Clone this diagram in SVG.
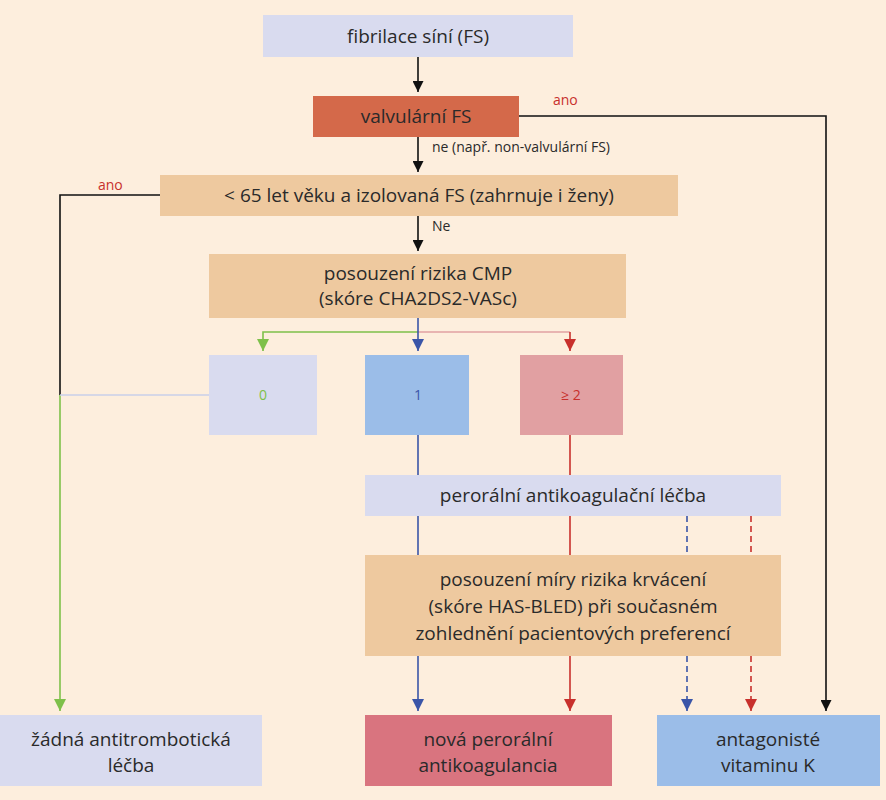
<svg xmlns="http://www.w3.org/2000/svg" width="886" height="800" viewBox="0 0 886 800">
<style>
text{font-family:"Open Sans","Liberation Sans",sans-serif;fill:#2a2a2a;text-anchor:middle}
.t{font-size:19px}
.s{font-size:14px;text-anchor:start}
.r{fill:#c8302c}
.ln{fill:none;stroke-width:1.6}
</style>
<defs>
<marker id="ak" viewBox="0 0 10 10" refX="5" refY="10" markerWidth="11" markerHeight="11" markerUnits="userSpaceOnUse"><path d="M0,0L10,0L5,10z" fill="#111"/></marker>
<marker id="ab" viewBox="0 0 10 10" refX="5" refY="10" markerWidth="12" markerHeight="12" markerUnits="userSpaceOnUse"><path d="M0,0L10,0L5,10z" fill="#3a55a8"/></marker>
<marker id="ar" viewBox="0 0 10 10" refX="5" refY="10" markerWidth="12" markerHeight="12" markerUnits="userSpaceOnUse"><path d="M0,0L10,0L5,10z" fill="#c8302c"/></marker>
<marker id="ag" viewBox="0 0 10 10" refX="5" refY="10" markerWidth="12" markerHeight="12" markerUnits="userSpaceOnUse"><path d="M0,0L10,0L5,10z" fill="#7ec04a"/></marker>
</defs>
<rect width="886" height="800" fill="#fdeedd"/>
<g id="connectors">
<path class="ln" stroke="#111" d="M418,57V92" marker-end="url(#ak)"/>
<path class="ln" stroke="#111" d="M418,137V172" marker-end="url(#ak)"/>
<path class="ln" stroke="#111" d="M418,216V251" marker-end="url(#ak)"/>
<path class="ln" stroke="#111" d="M519,116H826V711" marker-end="url(#ak)"/>
<path class="ln" stroke="#111" d="M160,195H60V395"/>
<path class="ln" stroke="#7ec04a" d="M60,395V711" marker-end="url(#ag)"/>
<path class="ln" stroke="#c8cfe8" d="M209,395H60"/>
<path class="ln" stroke="#e1a0a2" stroke-width="2.5" fill="none" d="M418,332H570"/>
<path class="ln" stroke="#c8302c" d="M570,332V351" marker-end="url(#ar)"/>
<path class="ln" stroke="#7ec04a" d="M418,332H263V351" marker-end="url(#ag)"/>
<path class="ln" stroke="#3a55a8" d="M418,318V351" marker-end="url(#ab)"/>
<path class="ln" stroke="#3a55a8" d="M418,435V711" marker-end="url(#ab)"/>
<path class="ln" stroke="#c8302c" d="M570,435V711" marker-end="url(#ar)"/>
<path class="ln" stroke="#3a55a8" stroke-dasharray="6,4" d="M687,516V711" marker-end="url(#ab)"/>
<path class="ln" stroke="#c8302c" stroke-dasharray="6,4" d="M751,516V711" marker-end="url(#ar)"/>
</g>
<g id="n1"><rect x="263" y="15" width="310" height="42" fill="#d9dbef"/><text class="t" x="418" y="43">fibrilace síní (FS)</text></g>
<g id="n2"><rect x="313" y="96" width="206" height="41" fill="#d4694a"/><text class="t" x="416" y="123">valvulární FS</text></g>
<text class="s r" x="553" y="105">ano</text>
<text class="s" x="432" y="152">ne (např. non-valvulární FS)</text>
<g id="n3"><rect x="160" y="175" width="518" height="41" fill="#eec99f"/><text class="t" x="419" y="202">&lt; 65 let věku a izolovaná FS (zahrnuje i ženy)</text></g>
<text class="s r" x="98" y="190">ano</text>
<text class="s" x="432" y="231">Ne</text>
<g id="n4"><rect x="209" y="254" width="417" height="64" fill="#eec99f"/><text class="t" x="418" y="280">posouzení rizika CMP</text><text class="t" x="418" y="305">(skóre CHA2DS2-VASc)</text></g>
<g id="n5"><rect x="209" y="355" width="108" height="80" fill="#d9dbef"/><text x="263" y="400" font-size="14" style="fill:#7ec04a">0</text></g>
<g id="n6"><rect x="365" y="355" width="104" height="80" fill="#9bbde8"/><text x="418" y="400" font-size="14" style="fill:#3a55a8">1</text></g>
<g id="n7"><rect x="520" y="355" width="103" height="80" fill="#e1a0a2"/><text x="571" y="400" font-size="14" class="r">≥ 2</text></g>
<g id="n8"><rect x="365" y="475" width="416" height="41" fill="#d9dbef"/><text class="t" x="573" y="502">perorální antikoagulační léčba</text></g>
<g id="n9"><rect x="365" y="555" width="416" height="101" fill="#eec99f"/><text class="t" x="573" y="586">posouzení míry rizika krvácení</text><text class="t" x="573" y="613">(skóre HAS-BLED) při současném</text><text class="t" x="573" y="640">zohlednění pacientových preferencí</text></g>
<g id="n10"><rect x="0" y="715" width="262" height="71" fill="#d9dbef"/><text class="t" x="131" y="746">žádná antitrombotická</text><text class="t" x="131" y="772">léčba</text></g>
<g id="n11"><rect x="365" y="715" width="247" height="71" fill="#d9747f"/><text class="t" x="488" y="746">nová perorální</text><text class="t" x="488" y="772">antikoagulancia</text></g>
<g id="n12"><rect x="657" y="715" width="223" height="71" fill="#9bbde8"/><text class="t" x="768" y="746">antagonisté</text><text class="t" x="768" y="772">vitaminu K</text></g>
</svg>
